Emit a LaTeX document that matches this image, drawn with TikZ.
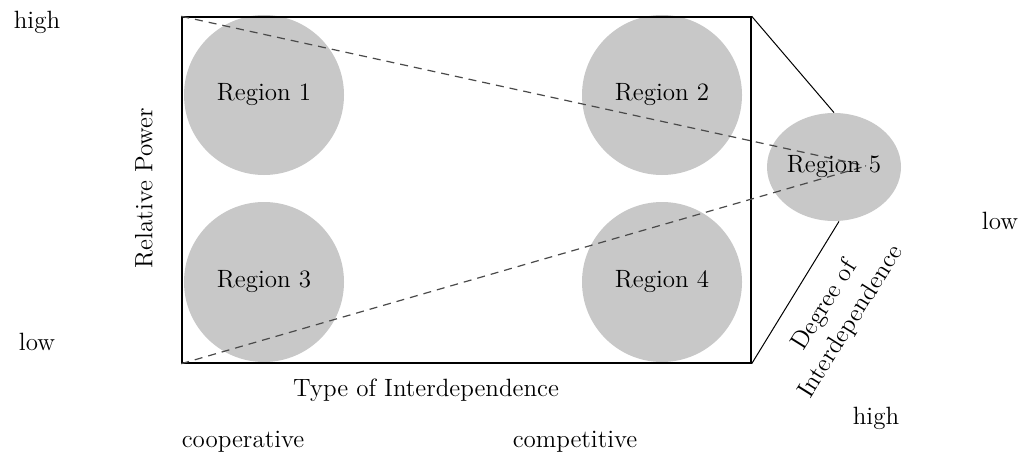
\documentclass[tikz,border=0pt]{standalone}
\usepackage{xcolor}
\usepackage{tikz}
\usetikzlibrary{positioning,shapes.geometric,calc}
\definecolor{regiongray}{HTML}{C8C8C8}
\definecolor{dashgray}{HTML}{4A4A4A}

\begin{document}
\begin{tikzpicture}[x=0.5pt, y=-0.5pt,
    every node/.style={font=\fontsize{12.5}{15.5}\selectfont},
    region/.style={circle, fill=regiongray, minimum size=80pt, inner sep=0pt},
    guide/.style={dashed, dash pattern=on 4pt off 3pt, dashgray, line width=0.6pt}]
  \useasboundingbox (0,0) rectangle (1026,460);

  \node[region] (r1) at (264,95) {};
  \node[region] (r2) at (662,95) {};
  \node[region] (r3) at (264,282) {};
  \node[region] (r4) at (662,282) {};
  \node[draw, line width=0.7pt, minimum width=284.5pt, minimum height=173pt, inner sep=0pt] (grid) at (466.5,190) {};
  \node[ellipse, fill=regiongray, minimum width=67pt, minimum height=54pt, inner sep=0pt] (r5) at (834,167) {};
  \coordinate (vp) at (866,166);

  \draw[guide] (grid.north west) -- (vp);
  \draw[guide] (grid.south west) -- (vp);
  \draw[line width=0.5pt] (grid.north east) -- (r5.north);
  \draw[line width=0.5pt] (grid.south east) -- ($(r5.south)+(5,0)$);

  \node at (r1) {Region 1};
  \node at (r2) {Region 2};
  \node at (r3) {Region 3};
  \node at (r4) {Region 4};
  \node at (r5) {Region 5};

  \node (hi) at (37,22) {high};
  \node (lo) at (37,342) {low};
  \node[rotate=90] (power) at (144,188) {Relative Power};
  \node (type) at (426,390) {Type of Interdependence};
  \node (coop) at (243,442) {cooperative};
  \node (comp) at (575,442) {competitive};
  \node (dlo) at (1000,221) {low};
  \node (dhi) at (876,418) {high};
  \node[rotate=58, align=center] (degree) at (838,314) {Degree of\\Interdependence};
\end{tikzpicture}
\end{document}
